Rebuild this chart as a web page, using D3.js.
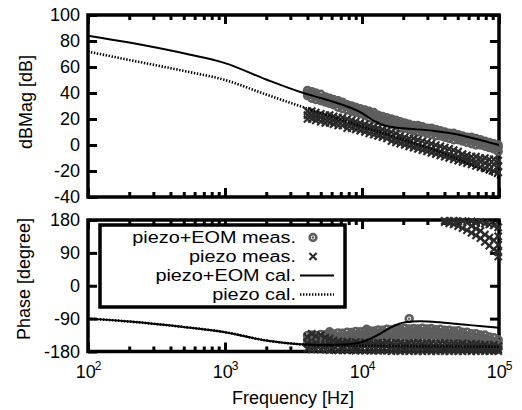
<!DOCTYPE html>
<html>
<head>
<meta charset="utf-8">
<script src="https://cdn.jsdelivr.net/npm/d3@7"></script>
<style>
  body { margin: 0; background: #fff; }
  svg { display: block; }
</style>
</head>
<body>
<svg id="chart" width="522" height="410"></svg>
<script>
// measured sweep frequencies [Hz]
var measFreq = [4000, 4300, 4600, 5000, 5400, 5800, 6200, 6700, 7200, 7800,
  8400, 9000, 9700, 10500, 11300, 12200, 13100, 14100, 15200, 16400,
  17700, 19000, 20500, 22100, 23800, 25600, 27600, 29800, 32100, 34600,
  37300, 40200, 43300, 46700, 50300, 54200, 58400, 63000, 67900, 73200,
  78900, 85000, 91600, 98700];

// piezo+EOM meas. magnitude [dB] (upper / middle / lower scatter)
var eomMagHi = [42, 41, 40, 39, 37, 36, 35, 34, 33, 31, 30, 29, 28, 27, 26, 25, 23, 22, 21, 20,
  19, 18, 17, 16, 15, 15, 14, 13, 13, 12, 11, 10, 9, 9, 8, 7, 6, 6, 5, 4, 3, 2, 1, 0];
var eomMagMid = [40, 39, 38, 36, 35, 34, 33, 32, 31, 30, 28, 27, 26, 25, 24, 23, 21, 20, 19, 18,
  17, 16, 15, 14, 13, 13, 12, 11, 11, 10, 9, 8, 8, 7, 6, 5, 5, 4, 3, 2, 1, 0, -1, -2];
var eomMagLo = [38, 36, 35, 34, 33, 32, 31, 29, 28, 27, 26, 25, 24, 23, 21, 20, 19, 18, 17, 16,
  15, 13, 13, 12, 11, 10, 10, 9, 8, 7, 7, 6, 5, 4, 4, 3, 2, 1, 0, 0, -1, -2, -3, -5];

// piezo meas. magnitude [dB]
var piezoMagHi = [26, 26, 25, 24, 23, 23, 22, 21, 21, 20, 19, 18, 17, 16, 15, 14, 13, 12, 11, 10,
  9, 7, 6, 5, 5, 4, 3, 2, 1, 0, -1, -2, -3, -4, -5, -7, -8, -9, -9, -10, -10, -11, -11, -12];
var piezoMagMid = [23, 23, 22, 21, 20, 20, 19, 18, 18, 16, 16, 15, 14, 13, 12, 11, 10, 9, 8, 6,
  5, 4, 3, 2, 1, 0, -1, -2, -3, -4, -5, -6, -7, -8, -9, -10, -11, -12, -13, -13, -14, -15, -15, -16];
var piezoMagLo = [20, 20, 19, 18, 17, 17, 16, 15, 15, 13, 13, 12, 11, 10, 9, 8, 7, 6, 5, 3,
  2, 1, 0, -1, -2, -3, -4, -5, -6, -7, -8, -9, -10, -11, -12, -13, -14, -15, -16, -17, -18, -19, -20, -21];

// piezo+EOM meas. phase [degree]
var eomPhHi = [-136, -135, -136, -133, -134, -131, -132, -129, -130, -127, -128, -125, -126, -124, -123, -124, -121, -122, -119, -120,
  -117, -118, -116, -118, -117, -118, -116, -118, -117, -120, -119, -122, -122, -124, -123, -127, -127, -131, -131, -135,
  -135, -140, -142, -148];
var eomPhMid = [-148, -148, -147, -146, -145, -144, -143, -142, -141, -140, -139, -138, -138, -136, -136, -135, -134, -133, -132, -131,
  -130, -129, -129, -129, -130, -129, -129, -129, -130, -131, -132, -133, -135, -135, -136, -138, -140, -142, -144, -146,
  -148, -151, -154, -159];
var eomPhLo = [-160, -161, -158, -159, -157, -157, -155, -155, -153, -153, -151, -151, -150, -149, -148, -148, -146, -146, -144, -144,
  -142, -142, -141, -141, -142, -141, -142, -141, -142, -143, -144, -146, -147, -148, -149, -151, -152, -155, -156, -159,
  -160, -163, -166, -171];
var eomPhExtra = [[5800, -126], [10800, -119], [22100, -90]];

// piezo meas. phase [degree]
var piezoPhHi = [-140, -132, -138, -135, -142, -145, -150, -152, -155, -153, -156, -154, -157, -155, -156, -158, -156, -157, -155, -158,
  -156, -157, -159, -157, -158, -156, -159, -157, -158, -160, -158, -157, -159, -158, -160, -158, -161, -159, -160, -162,
  -161, -163, -162, -165];
var piezoPhMid = [-158, -160, -157, -161, -162, -160, -163, -162, -164, -163, -165, -164, -166, -165, -166, -167, -166, -167, -166, -168,
  -167, -168, -167, -168, -169, -168, -169, -168, -170, -169, -170, -169, -170, -171, -170, -171, -172, -171, -172, -171,
  -172, -173, -172, -174];
var piezoPhLo = [-172, -174, -173, -175, -174, -176, -175, -177, -176, -177, -176, -178, -177, -178, -177, -178, -178, -177, -178, -179,
  -178, -179, -178, -179, -178, -179, -179, -178, -179, -179, -178, -179, -179, -178, -179, -179, -178, -179, -179, -178,
  -179, -179, -178, -179];
// points that wrapped round to +180
var piezoPhWrap = [[40200, 178], [40200, 174], [43300, 177], [43300, 171], [46700, 178], [46700, 168],
  [50300, 176], [50300, 163], [54200, 177], [54200, 158], [58400, 174], [58400, 152],
  [63000, 176], [63000, 164], [63000, 145], [67900, 172], [67900, 156], [67900, 138],
  [73200, 174], [73200, 150], [73200, 130], [78900, 170], [78900, 140], [78900, 120],
  [85000, 168], [85000, 132], [85000, 110], [91600, 165], [91600, 125], [91600, 100],
  [98700, 160], [98700, 135], [98700, 112], [98700, 92], [98700, 80]];

// calculated curves [Hz, value]
var eomCalMag = [[100, 84.1], [200, 78.8], [500, 70.5], [1000, 63], [2000, 50.4], [3500, 41], [5000, 36.1],
  [6140, 33.3], [10000, 24.6], [12250, 18.5], [14700, 15], [17400, 13.5], [20000, 12.8], [33000, 11],
  [50000, 8], [58400, 6.4], [100000, 0]];
var piezoCalMag = [[100, 71.8], [200, 65.4], [500, 57], [1000, 50], [2000, 38.8], [5000, 24.6], [10000, 14.2],
  [20000, 4.2], [50000, -10.8], [100000, -25.4]];
var eomCalPh = [[100, -90], [200, -98], [500, -113], [1000, -127], [2000, -150], [3500, -160], [5000, -162],
  [7500, -161], [9300, -157], [11000, -148], [13000, -135], [15900, -116], [20600, -100], [26500, -97],
  [37000, -100], [50000, -105], [72000, -110], [100000, -115]];
var piezoCalPh = [[100, -90], [200, -98], [500, -113], [1000, -127], [2000, -150], [3500, -160], [5000, -163],
  [10000, -164], [20000, -165], [50000, -166], [100000, -167]];

var magTicks = [-40, -20, 0, 20, 40, 60, 80, 100];
var phTicks = [-180, -90, 0, 90, 180];
var legendLabels = ["piezo+EOM meas.", "piezo meas.", "piezo+EOM cal.", "piezo cal."];

var FONT = "'Liberation Sans', Arial, Helvetica, sans-serif";
var GRAY = "#5e5e5e", DARK = "#2a2a2a";

var svg = d3.select("#chart");

var x = d3.scaleLog().domain([1e2, 1e5]).range([88, 499]);
var yMag = d3.scaleLinear().domain([-40, 100]).range([197, 15]);
var yPh = d3.scaleLinear().domain([-180, 180]).range([351.5, 220]);

var majorX = [1e2, 1e3, 1e4, 1e5];
var minorX = x.ticks().filter(function(d) { return majorX.indexOf(d) < 0; });

function pairs(vals) {
  return measFreq.map(function(f, i) { return [f, vals[i]]; });
}

function drawAxes(y, yTicks, xLabels) {
  var yb = y.range()[0], yt = y.range()[1];
  var g = svg.append("g");

  g.append("g").attr("transform", "translate(0," + yb + ")")
    .call(d3.axisBottom(x).tickValues(minorX).tickSize(-5).tickFormat(""));
  g.append("g").attr("transform", "translate(0," + yt + ")")
    .call(d3.axisTop(x).tickValues(minorX).tickSize(-5).tickFormat(""));
  var xb = g.append("g").attr("transform", "translate(0," + yb + ")")
    .call(d3.axisBottom(x).tickValues(majorX).tickSize(-9).tickPadding(14));
  g.append("g").attr("transform", "translate(0," + yt + ")")
    .call(d3.axisTop(x).tickValues(majorX).tickSize(-9).tickFormat(""));
  g.append("g").attr("transform", "translate(88,0)")
    .call(d3.axisLeft(y).tickValues(yTicks).tickSize(-9).tickPadding(8)
      .tickFormat(function(d) { return String(d); }));
  g.append("g").attr("transform", "translate(499,0)")
    .call(d3.axisRight(y).tickValues(yTicks).tickSize(-9).tickFormat(""));

  g.selectAll(".domain").remove();
  g.selectAll("g").attr("font-family", FONT).attr("font-size", 18);
  g.selectAll(".tick line").attr("stroke", "#000").attr("stroke-width", 3);
  g.selectAll(".tick text").attr("fill", "#000");

  // 10^n labels, or none on the upper panel
  xb.selectAll(".tick text").each(function(d) {
    var t = d3.select(this).text(null);
    if (!xLabels) return;
    t.append("tspan").text("10");
    t.append("tspan").attr("font-size", 12).attr("dy", -8).attr("dx", -1)
      .text(String(Math.round(Math.log10(d))));
  });

  g.append("rect")
    .attr("x", x.range()[0]).attr("y", yt)
    .attr("width", x.range()[1] - x.range()[0]).attr("height", yb - yt)
    .attr("fill", "none").attr("stroke", "#000").attr("stroke-width", 3.5);
}

function circleMarker(sel) {
  sel.append("circle").attr("r", 3.4).attr("fill", "none").attr("stroke", GRAY).attr("stroke-width", 2.6);
  sel.append("circle").attr("r", 1.2).attr("fill", GRAY);
}

function drawCircles(pts, y) {
  var m = svg.append("g").selectAll("g").data(pts).enter().append("g")
    .attr("transform", function(d) { return "translate(" + x(d[0]) + "," + y(d[1]) + ")"; });
  circleMarker(m);
}

function drawCrosses(pts, y) {
  svg.append("g").selectAll("path").data(pts).enter().append("path")
    .attr("transform", function(d) { return "translate(" + x(d[0]) + "," + y(d[1]) + ")"; })
    .attr("d", "M-3.6,-3.6L3.6,3.6M-3.6,3.6L3.6,-3.6")
    .attr("stroke", DARK).attr("stroke-width", 2.1);
}

function drawLine(data, y, dotted) {
  var line = d3.line()
    .x(function(d) { return x(d[0]); })
    .y(function(d) { return y(d[1]); })
    .curve(d3.curveMonotoneX);
  svg.append("path").datum(data)
    .attr("d", line)
    .attr("fill", "none")
    .attr("stroke", "#000")
    .attr("stroke-width", dotted ? 2.6 : 2)
    .attr("stroke-dasharray", dotted ? "1.4,1.6" : null);
}

drawAxes(yMag, magTicks, false);
drawAxes(yPh, phTicks, true);

// upper panel: magnitude
drawCircles(pairs(eomMagHi).concat(pairs(eomMagMid), pairs(eomMagLo)), yMag);
drawCrosses(pairs(piezoMagHi).concat(pairs(piezoMagMid), pairs(piezoMagLo)), yMag);
drawLine(eomCalMag, yMag, false);
drawLine(piezoCalMag, yMag, true);

// lower panel: phase
drawCircles(pairs(eomPhHi).concat(pairs(eomPhMid), pairs(eomPhLo), eomPhExtra), yPh);
drawCrosses(pairs(piezoPhHi).concat(pairs(piezoPhMid), pairs(piezoPhLo), piezoPhWrap), yPh);
drawLine(eomCalPh, yPh, false);
drawLine(piezoCalPh, yPh, true);

// axis titles
svg.append("text")
  .attr("transform", "translate(32,102) rotate(-90)")
  .attr("text-anchor", "middle").attr("font-family", FONT).attr("font-size", 18)
  .text("dBMag [dB]");
svg.append("text")
  .attr("transform", "translate(30,279) rotate(-90)")
  .attr("text-anchor", "middle").attr("font-family", FONT).attr("font-size", 18)
  .text("Phase [degree]");
svg.append("text")
  .attr("x", 293).attr("y", 404)
  .attr("text-anchor", "middle").attr("font-family", FONT).attr("font-size", 18)
  .text("Frequency [Hz]");

// legend
var leg = svg.append("g").attr("font-family", FONT).attr("font-size", 16);
leg.append("rect")
  .attr("x", 100).attr("y", 225).attr("width", 245).attr("height", 82)
  .attr("fill", "#fff").attr("stroke", "#000").attr("stroke-width", 3.5);
var rowY = [237.5, 256.5, 275.5, 294.5];
legendLabels.forEach(function(label, i) {
  var t = leg.append("text")
    .attr("x", 296).attr("y", rowY[i]).attr("dy", "0.36em")
    .attr("text-anchor", "end").text(label);
  // the original legend lettering is drawn wide
  var w = t.node().getComputedTextLength();
  t.attr("textLength", w * 1.24).attr("lengthAdjust", "spacingAndGlyphs");
});
circleMarker(leg.append("g").attr("transform", "translate(313," + rowY[0] + ")"));
leg.append("path")
  .attr("transform", "translate(313," + rowY[1] + ")")
  .attr("d", "M-3.6,-3.6L3.6,3.6M-3.6,3.6L3.6,-3.6")
  .attr("stroke", DARK).attr("stroke-width", 2.1);
leg.append("line").attr("x1", 300).attr("x2", 334).attr("y1", rowY[2]).attr("y2", rowY[2])
  .attr("stroke", "#000").attr("stroke-width", 2);
leg.append("line").attr("x1", 300).attr("x2", 334).attr("y1", rowY[3]).attr("y2", rowY[3])
  .attr("stroke", "#000").attr("stroke-width", 2.6).attr("stroke-dasharray", "1.4,1.6");
</script>
</body>
</html>
